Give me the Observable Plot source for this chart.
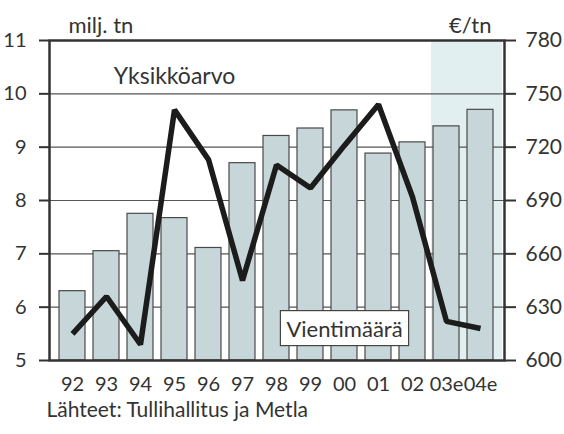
<!DOCTYPE html>
<html>
<head>
<meta charset="utf-8">
<script src="https://cdn.jsdelivr.net/npm/d3@7"></script>
<script src="https://cdn.jsdelivr.net/npm/@observablehq/plot@0.6"></script>
<style>
  html, body { margin: 0; padding: 0; background: #fff; }
  #chart { width: 564px; height: 434px; }
</style>
</head>
<body>
<div id="chart"></div>
<script>
const years = ["92","93","94","95","96","97","98","99","00","01","02","03e","04e"];
const volume = [6.3, 7.05, 7.75, 7.67, 7.11, 8.7, 9.21, 9.35, 9.69, 8.88, 9.09, 9.39, 9.7]; // milj. tn
const unitValue = [615, 636, 609, 741, 713, 645, 710, 697, 721, 744, 692, 622, 618]; // €/tn
const forecastYears = ["03e","04e"];
const leftTicks = [5, 6, 7, 8, 9, 10, 11];
const gridTicks = [6, 7, 8, 9, 10];
const rightTicks = [600, 630, 660, 690, 720, 750, 780];

// map €/tn onto the left scale (600..780 -> 5..11)
const toLeft = v => 5 + (v - 600) / 30;
const fromLeft = y => Math.round(600 + (y - 5) * 30);

const barData = years.map((y, i) => ({year: y, value: volume[i]}));
const lineData = years.map((y, i) => ({year: y, value: toLeft(unitValue[i])}));

const font = "Lato, 'Open Sans', sans-serif";
const ink = "#333";

const chart = Plot.plot({
  width: 564,
  height: 434,
  marginTop: 40,
  marginBottom: 74,
  marginLeft: 49,
  marginRight: 60,
  style: {fontFamily: font, fontSize: "20px", color: ink, background: "#fff"},
  x: {type: "band", domain: years, paddingInner: 0.23, paddingOuter: 0.15, label: null},
  y: {domain: [5, 11], label: null},
  marks: [
    Plot.barY(forecastYears, {x: d => d, y1: 5, y2: 11, fill: "#e2eff1", insetLeft: -2, insetRight: -9}),
    Plot.ruleY(gridTicks, {stroke: "#555", strokeWidth: 1.2}),
    Plot.barY(barData, {x: "year", y1: 5, y2: "value", fill: "#c7d7d9", stroke: "#4a4a4a", strokeWidth: 1.2}),
    Plot.line(lineData, {x: "year", y: "value", stroke: "#1c1c1c", strokeWidth: 5.5, strokeLinejoin: "miter", strokeLinecap: "butt"}),
    Plot.axisY({anchor: "left", ticks: leftTicks, tickSize: 10, tickPadding: 13, tickFormat: d => String(d), fontSize: 20, stroke: ink, strokeWidth: 2, fill: ink, label: null}),
    Plot.axisY({anchor: "right", ticks: leftTicks, tickSize: 11, tickPadding: 10, tickFormat: fromLeft, fontSize: 21, stroke: ink, strokeWidth: 2, fill: ink, label: null}),
    Plot.axisX({tickSize: 0, tickPadding: 16, fontSize: 20, fill: ink, label: null}),
    Plot.frame({stroke: ink, strokeWidth: 2.5}),
    Plot.text(["milj. tn"], {frameAnchor: "top-left", dx: 19, dy: -23, textAnchor: "start", fontSize: 22, fill: ink}),
    Plot.text(["€/tn"], {frameAnchor: "top-right", dx: -13, dy: -23, textAnchor: "end", fontSize: 22, fill: ink}),
    Plot.text([{x: "95", y: 10.33, t: "Yksikköarvo"}], {x: "x", y: "y", text: "t", fontSize: 23, fill: ink}),
    Plot.text([{x: "00", y: 5.58, t: "Vientimäärä"}], {x: "x", y: "y", text: "t", fontSize: 22, fill: ink, className: "boxed"}),
    Plot.text(["Lähteet: Tullihallitus ja Metla"], {frameAnchor: "bottom-left", dx: -3, dy: 56, textAnchor: "start", fontSize: 21, fill: ink})
  ]
});
document.getElementById("chart").appendChild(chart);

// white box behind the "Vientimäärä" label
d3.select(chart).selectAll("g.boxed text").each(function() {
  const b = this.getBBox();
  const padX = 6, padY = 4;
  const tr = this.getAttribute("transform");
  const r = d3.select(this.parentNode).insert("rect", () => this)
    .attr("x", b.x - padX).attr("y", b.y - padY)
    .attr("width", b.width + 2 * padX).attr("height", b.height + 2 * padY)
    .attr("fill", "#fff").attr("stroke", "#444").attr("stroke-width", 1.2);
  if (tr) r.attr("transform", tr);
});
</script>
</body>
</html>
